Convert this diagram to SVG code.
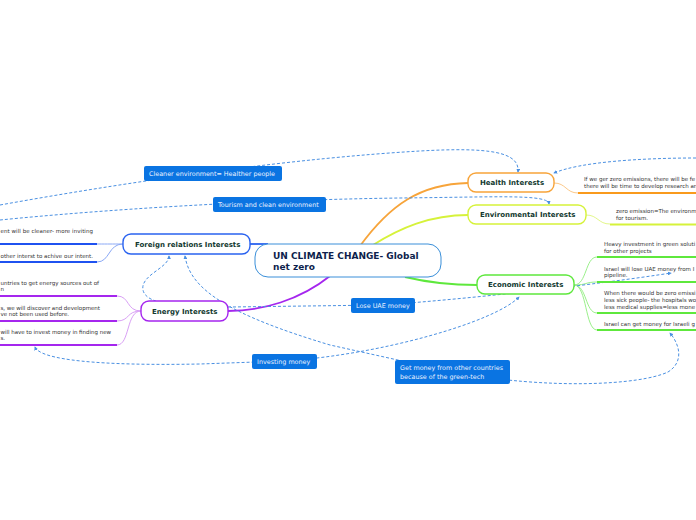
<svg xmlns="http://www.w3.org/2000/svg" width="696" height="520" viewBox="0 0 696 520">
<defs>
<marker id="arr" viewBox="0 0 10 10" refX="8" refY="5" markerWidth="4" markerHeight="4" orient="auto-start-reverse" markerUnits="userSpaceOnUse">
<path d="M0,0 L10,5 L0,10 z" fill="#4a90e2"/>
</marker>
<style>
.rel{fill:none;stroke:#4a90e2;stroke-width:1;stroke-dasharray:3 2;}
.lbl{fill:#0a74e2;}
.lt{font-family:"DejaVu Sans",Verdana,sans-serif;font-size:6.4px;fill:#eaf2ff;}
.topic{fill:#fff;stroke-width:1.4;}
.tt{font-family:"DejaVu Sans",Verdana,sans-serif;font-size:7px;font-weight:bold;fill:#12392f;}
.sub{font-family:"DejaVu Sans",Verdana,sans-serif;font-size:5.5px;fill:#333;}
.ul{fill:none;stroke-width:2;}
.cn{fill:none;stroke-width:1;}
.mc{fill:none;stroke-width:1.8;}
</style>
</defs>
<rect width="696" height="520" fill="#fff"/>

<g id="connectors">
<path class="mc" stroke="#f7a43a" d="M360,246 C390,205 420,184 468,183"/>
<path class="mc" stroke="#d6f23a" d="M373,245 C400,228 430,215 468,215"/>
<path class="mc" stroke="#5ee83c" d="M405,277 C430,283 450,285 477,285"/>
<path class="mc" stroke="#a526ee" d="M330,276 C300,300 262,311 228,311"/>
<path class="mc" stroke="#2a63f0" d="M250,244 L268,244"/>

<path class="cn" stroke="#fcc98a" d="M554,183 C566,183 566,193 578,193"/>
<path class="cn" stroke="#e3f78a" d="M586,215 C598,215 598,224 610,224"/>
<path class="cn" stroke="#9af08a" d="M574,285 C587,285 585,257 597,257"/>
<path class="cn" stroke="#9af08a" d="M574,285 C587,285 585,282 597,282"/>
<path class="cn" stroke="#9af08a" d="M574,285 C587,285 585,313 597,313"/>
<path class="cn" stroke="#9af08a" d="M574,285 C587,285 585,330 597,330"/>
<path class="cn" stroke="#8aa8f5" d="M123,244 C110,244 110,244 97,244"/>
<path class="cn" stroke="#8aa8f5" d="M123,244 C108,244 110,262 97,262"/>
<path class="cn" stroke="#d9a0f5" d="M141,311 C126,311 130,296 117,296"/>
<path class="cn" stroke="#d9a0f5" d="M141,311 C126,311 130,321 117,321"/>
<path class="cn" stroke="#d9a0f5" d="M141,311 C126,311 130,345 117,345"/>

<path class="rel" marker-end="url(#arr)" d="M0,205 C150,178 300,158 420,151 C490,147 520,152 518,172"/>
<path class="rel" marker-end="url(#arr)" d="M0,220 C100,210 250,200 400,198 C500,197 548,194 549,204"/>
<path class="rel" marker-end="url(#arr)" d="M696,158 C640,158 580,162 554,173"/>
<path class="rel" marker-start="url(#arr)" marker-end="url(#arr)" d="M169,256 C169,268 140,275 143,290 C146,305 180,307 230,307 L383,305 C480,298 600,284 671,273"/>
<path class="rel" marker-start="url(#arr)" marker-end="url(#arr)" d="M35,347 C40,360 100,366 200,364 L284,361 C380,355 495,322 519,297"/>
<path class="rel" marker-start="url(#arr)" marker-end="url(#arr)" d="M185,256 C190,290 230,315 330,345 L452,372 C550,390 640,385 668,372 C684,362 680,345 670,333"/>
</g>

<g id="lbl-cleaner"><rect class="lbl" x="144" y="166" width="138" height="15" rx="2"/><text class="lt" x="149" y="176">Cleaner environment= Healther people</text></g>
<g id="lbl-tourism"><rect class="lbl" x="213" y="197" width="113" height="15" rx="2"/><text class="lt" x="218" y="207">Tourism and clean environment</text></g>
<g id="lbl-lose"><rect class="lbl" x="351" y="298" width="64" height="15" rx="2"/><text class="lt" x="356" y="308">Lose UAE money</text></g>
<g id="lbl-invest"><rect class="lbl" x="252" y="354" width="65" height="15" rx="2"/><text class="lt" x="257" y="364">Investing money</text></g>
<g id="lbl-getmoney"><rect class="lbl" x="395" y="360" width="115" height="24" rx="2"/><text class="lt" x="400" y="369.5">Get money from other countries</text><text class="lt" x="400" y="378.5">because of the green-tech</text></g>

<g id="central">
<rect x="255" y="244" width="186" height="33" rx="13" fill="#fff" stroke="#3a8fd9" stroke-width="1"/>
<text font-family="DejaVu Sans,Verdana,sans-serif" font-size="9px" font-weight="bold" fill="#0e1f4d" x="273" y="259">UN CLIMATE CHANGE- Global</text>
<text font-family="DejaVu Sans,Verdana,sans-serif" font-size="9px" font-weight="bold" fill="#0e1f4d" x="273" y="270">net zero</text>
</g>

<g id="health">
<rect class="topic" x="468" y="173" width="86" height="19" rx="8" stroke="#f7a43a"/>
<text class="tt" x="480" y="185">Health Interests</text>
</g>
<g id="environmental">
<rect class="topic" x="468" y="205" width="118" height="19" rx="8" stroke="#d6f23a"/>
<text class="tt" x="480" y="217">Environmental Interests</text>
</g>
<g id="economic">
<rect class="topic" x="477" y="275" width="97" height="19" rx="8" stroke="#5ee83c"/>
<text class="tt" x="488" y="287">Economic Interests</text>
</g>
<g id="foreign">
<rect class="topic" x="123" y="234" width="127" height="20" rx="8" stroke="#2a63f0"/>
<text class="tt" x="135" y="247">Foreign relations Interests</text>
</g>
<g id="energy">
<rect class="topic" x="141" y="301" width="87" height="20" rx="8" stroke="#a526ee"/>
<text class="tt" x="152" y="314">Energy Interests</text>
</g>

<g id="health-sub">
<text class="sub" x="584" y="181">If we ger zero emissions, there will be fe</text>
<text class="sub" x="584" y="188">there will be time to develop research an</text>
<path class="ul" stroke="#f99a1c" d="M578,193 L696,193"/>
</g>
<g id="env-sub">
<text class="sub" x="616" y="213">zero emission=The environm</text>
<text class="sub" x="616" y="220">for tourism.</text>
<path class="ul" stroke="#d6f23a" d="M610,224.5 L696,224.5"/>
</g>
<g id="eco-sub1">
<text class="sub" x="604" y="246">Heavy investment in green soluti</text>
<text class="sub" x="604" y="253">for other projects</text>
<path class="ul" stroke="#5ee83c" d="M597,257 L696,257"/>
</g>
<g id="eco-sub2">
<text class="sub" x="604" y="271">Israel will lose UAE money from I</text>
<text class="sub" x="604" y="277">pipeline.</text>
<path class="ul" stroke="#5ee83c" d="M597,282 L696,282"/>
</g>
<g id="eco-sub3">
<text class="sub" x="604" y="295">When there would be zero emissi</text>
<text class="sub" x="604" y="302">less sick people- the hospitals wo</text>
<text class="sub" x="604" y="309">less medical supplies=less mone</text>
<path class="ul" stroke="#5ee83c" d="M597,313 L696,313"/>
</g>
<g id="eco-sub4">
<text class="sub" x="604" y="326">Israel can get money for Israeli g</text>
<path class="ul" stroke="#5ee83c" d="M597,330 L696,330"/>
</g>
<g id="foreign-sub1">
<text class="sub" x="0.5" y="233" textLength="92.5" lengthAdjust="spacing">ent will be cleaner- more inviting</text>
<path class="ul" stroke="#1f52f0" d="M0,244 L97,244"/>
</g>
<g id="foreign-sub2">
<text class="sub" x="0.5" y="258" textLength="92.5" lengthAdjust="spacing">other interst to achive our intent.</text>
<path class="ul" stroke="#1f52f0" d="M0,262 L97,262"/>
</g>
<g id="energy-sub1">
<text class="sub" x="0.5" y="285" textLength="98.5" lengthAdjust="spacing">untries to get energy sources out of</text>
<text class="sub" x="0.5" y="291">n</text>
<path class="ul" stroke="#a526ee" d="M0,296 L117,296"/>
</g>
<g id="energy-sub2">
<text class="sub" x="0.5" y="309.5" textLength="99.5" lengthAdjust="spacing">s, we will discover and development</text>
<text class="sub" x="0.5" y="315.5" textLength="68.5" lengthAdjust="spacing">ve not been used before.</text>
<path class="ul" stroke="#a526ee" d="M0,321 L117,321"/>
</g>
<g id="energy-sub3">
<text class="sub" x="0.5" y="334" textLength="110.5" lengthAdjust="spacing">will have to invest money in finding new</text>
<text class="sub" x="0.5" y="340">s.</text>
<path class="ul" stroke="#a526ee" d="M0,345 L117,345"/>
</g>
</svg>
